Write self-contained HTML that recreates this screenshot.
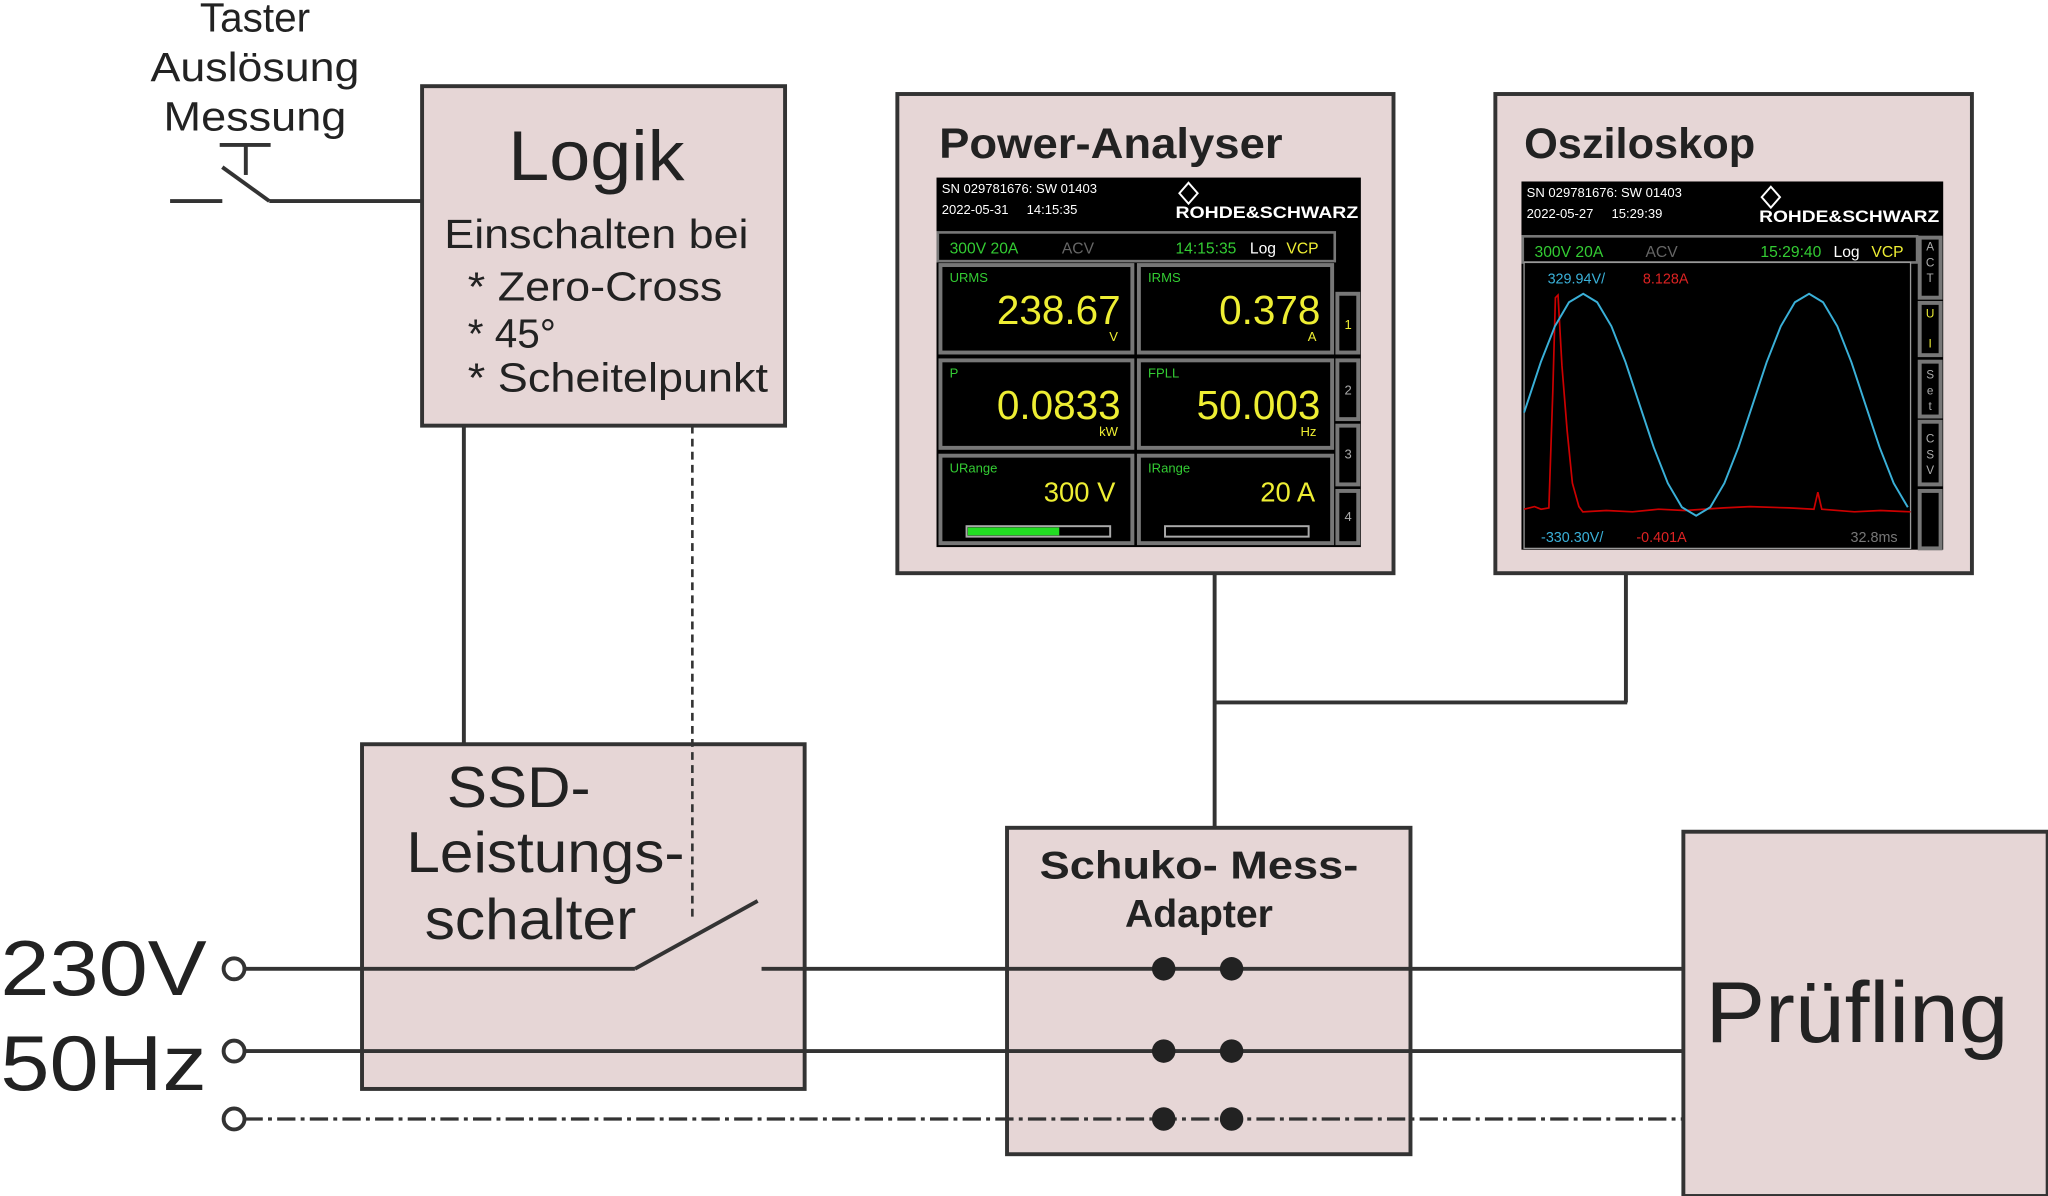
<!DOCTYPE html>
<html><head><meta charset="utf-8"><style>
html,body{margin:0;padding:0;background:#fff;}
svg{display:block;}
text{font-family:"Liberation Sans",sans-serif;}
</style></head><body>
<svg width="2048" height="1196" viewBox="0 0 1568 916" xmlns="http://www.w3.org/2000/svg">
<rect width="1568" height="916" fill="#fff"/>
<g fill="#e6d6d6" stroke="#333" stroke-width="3">
<rect x="323" y="66" width="278" height="260"/>
<rect x="277" y="570" width="339" height="264"/>
<rect x="771" y="634" width="309" height="250"/>
<rect x="1289" y="637" width="279" height="279"/>
<rect x="687" y="72" width="380" height="367"/>
<rect x="1145" y="72" width="365" height="367"/>
</g>
<g fill="#222">
<text x="195" y="24" font-size="31" text-anchor="middle">Taster</text>
<text x="115" y="62" font-size="31" textLength="160" lengthAdjust="spacingAndGlyphs">Auslösung</text>
<text x="125" y="100" font-size="31" textLength="140" lengthAdjust="spacingAndGlyphs">Messung</text>
<text x="389" y="138" font-size="54" textLength="135" lengthAdjust="spacingAndGlyphs">Logik</text>
<text x="340" y="190" font-size="31" textLength="233" lengthAdjust="spacingAndGlyphs">Einschalten bei</text>
<text x="358" y="230" font-size="31" textLength="195" lengthAdjust="spacingAndGlyphs">* Zero-Cross</text>
<text x="358" y="266" font-size="31">* 45°</text>
<text x="358" y="300" font-size="31" textLength="230" lengthAdjust="spacingAndGlyphs">* Scheitelpunkt</text>
<text x="342" y="618" font-size="44" textLength="110" lengthAdjust="spacingAndGlyphs">SSD-</text>
<text x="311" y="668" font-size="44" textLength="213" lengthAdjust="spacingAndGlyphs">Leistungs-</text>
<text x="325" y="719" font-size="44" textLength="162" lengthAdjust="spacingAndGlyphs">schalter</text>
<text x="0" y="762" font-size="60" textLength="158" lengthAdjust="spacingAndGlyphs">230V</text>
<text x="0" y="835" font-size="60" textLength="158" lengthAdjust="spacingAndGlyphs">50Hz</text>
<text x="796" y="673" font-size="30" font-weight="bold" textLength="244" lengthAdjust="spacingAndGlyphs">Schuko- Mess-</text>
<text x="918" y="710" font-size="30" font-weight="bold" text-anchor="middle">Adapter</text>
<text x="1306" y="798" font-size="66" textLength="232" lengthAdjust="spacingAndGlyphs">Prüfling</text>
<text x="719" y="121" font-size="33" font-weight="bold" textLength="263" lengthAdjust="spacingAndGlyphs">Power-Analyser</text>
<text x="1167" y="121" font-size="33" font-weight="bold" textLength="177" lengthAdjust="spacingAndGlyphs">Osziloskop</text>
</g>
<g stroke="#333" stroke-width="3" fill="none">
<line x1="130" y1="154" x2="170" y2="154"/>
<line x1="170" y1="128" x2="206" y2="154"/>
<line x1="168" y1="111" x2="207" y2="111"/>
<line x1="188" y1="111" x2="188" y2="134"/>
<line x1="206" y1="154" x2="323" y2="154"/>
<line x1="355" y1="326" x2="355" y2="570"/>
<line x1="530" y1="326" x2="530" y2="705" stroke-width="2" stroke-dasharray="6,4"/>
<line x1="187" y1="742" x2="486" y2="742"/>
<line x1="486" y1="742" x2="580" y2="690"/>
<line x1="583" y1="742" x2="1289" y2="742"/>
<line x1="187" y1="805" x2="1289" y2="805"/>
<line x1="187" y1="857" x2="1289" y2="857" stroke-width="2.5" stroke-dasharray="14,4,3,4"/>
<line x1="930" y1="439" x2="930" y2="634"/>
<line x1="930" y1="538" x2="1246" y2="538"/>
<line x1="1245" y1="439" x2="1245" y2="538"/>
<circle cx="179" cy="742" r="8" fill="#fff"/>
<circle cx="179" cy="805" r="8" fill="#fff"/>
<circle cx="179" cy="857" r="8" fill="#fff"/>
</g>
<g fill="#222">
<circle cx="891" cy="742" r="9"/><circle cx="943" cy="742" r="9"/>
<circle cx="891" cy="805" r="9"/><circle cx="943" cy="805" r="9"/>
<circle cx="891" cy="857" r="9"/><circle cx="943" cy="857" r="9"/>
</g>

<!-- Power analyser screen -->
<rect x="717" y="136" width="325" height="283" fill="#000"/>
<g fill="#fff" font-size="10">
<text x="721" y="148">SN 029781676: SW 01403</text>
<text x="721" y="164">2022-05-31 &#160;&#160;&#160;&#160;14:15:35</text>
<text x="900" y="167" font-size="12.5" font-weight="bold" textLength="140" lengthAdjust="spacingAndGlyphs">ROHDE&amp;SCHWARZ</text>
</g>
<path d="M910 140 l7 8 -7 8 -7 -8z" fill="none" stroke="#fff" stroke-width="1.5"/>
<rect x="718" y="178" width="304" height="22" fill="#000" stroke="#777" stroke-width="2"/>
<g font-size="12">
<text x="727" y="194" fill="#3c3">300V 20A</text>
<text x="813" y="194" fill="#666">ACV</text>
<text x="900" y="194" fill="#3c3">14:15:35</text>
<text x="957" y="194" fill="#fff">Log</text>
<text x="985" y="194" fill="#ee3">VCP</text>
</g>
<g fill="#000" stroke="#777" stroke-width="3">
<rect x="720" y="203" width="147" height="67"/><rect x="872" y="203" width="148" height="67"/>
<rect x="720" y="276" width="147" height="67"/><rect x="872" y="276" width="148" height="67"/>
<rect x="720" y="349" width="147" height="67"/><rect x="872" y="349" width="148" height="67"/>
<rect x="1024" y="225" width="16" height="45"/><rect x="1024" y="276" width="16" height="45"/>
<rect x="1024" y="326" width="16" height="45"/><rect x="1024" y="376" width="16" height="40"/>
</g>
<g fill="#3c3" font-size="10">
<text x="727" y="216">URMS</text><text x="879" y="216">IRMS</text>
<text x="727" y="289">P</text><text x="879" y="289">FPLL</text>
<text x="727" y="362">URange</text><text x="879" y="362">IRange</text>
</g>
<g fill="#ee3" text-anchor="end">
<text x="858" y="248" font-size="31">238.67</text><text x="1011" y="248" font-size="31">0.378</text>
<text x="858" y="321" font-size="31">0.0833</text><text x="1011" y="321" font-size="31">50.003</text>
<text x="854" y="384" font-size="21">300 V</text><text x="1007" y="384" font-size="21">20 A</text>
<text x="856" y="261" font-size="10">V</text><text x="1008" y="261" font-size="10">A</text>
<text x="856" y="334" font-size="10">kW</text><text x="1008" y="334" font-size="10">Hz</text>
<text x="1035" y="252" font-size="10">1</text>
</g>
<g fill="#aaa" font-size="10" text-anchor="end">
<text x="1035" y="302">2</text><text x="1035" y="351">3</text><text x="1035" y="399">4</text>
</g>
<rect x="740" y="403" width="110" height="8" fill="#000" stroke="#aaa" stroke-width="1.5"/>
<rect x="741" y="404" width="70" height="6" fill="#2d2"/>
<rect x="892" y="403" width="110" height="8" fill="#000" stroke="#aaa" stroke-width="1.5"/>

<!-- Oscilloscope screen -->
<rect x="1165" y="139" width="323" height="282" fill="#000"/>
<g fill="#fff" font-size="10">
<text x="1169" y="151">SN 029781676: SW 01403</text>
<text x="1169" y="167">2022-05-27 &#160;&#160;&#160;&#160;15:29:39</text>
<text x="1347" y="170" font-size="12.5" font-weight="bold" textLength="138" lengthAdjust="spacingAndGlyphs">ROHDE&amp;SCHWARZ</text>
</g>
<path d="M1356 143 l7 8 -7 8 -7 -8z" fill="none" stroke="#fff" stroke-width="1.5"/>
<rect x="1166" y="181" width="302" height="20" fill="#000" stroke="#777" stroke-width="2"/>
<g font-size="12">
<text x="1175" y="197" fill="#3c3">300V 20A</text>
<text x="1260" y="197" fill="#666">ACV</text>
<text x="1348" y="197" fill="#3c3">15:29:40</text>
<text x="1404" y="197" fill="#fff">Log</text>
<text x="1433" y="197" fill="#ee3">VCP</text>
</g>
<rect x="1167" y="201" width="296" height="219" fill="#000" stroke="#999" stroke-width="1"/>
<g fill="#000" stroke="#777" stroke-width="3">
<rect x="1470" y="182" width="16" height="46"/><rect x="1470" y="232" width="16" height="40"/>
<rect x="1470" y="277" width="16" height="42"/><rect x="1470" y="323" width="16" height="48"/>
<rect x="1470" y="376" width="16" height="44"/>
</g>
<g fill="#aaa" font-size="9" text-anchor="middle">
<text x="1478" y="192">A</text><text x="1478" y="204">C</text><text x="1478" y="216">T</text>
<text x="1478" y="243" fill="#ee3">U</text><text x="1478" y="266" fill="#ee3">I</text>
<text x="1478" y="290">S</text><text x="1478" y="302">e</text><text x="1478" y="314">t</text>
<text x="1478" y="339">C</text><text x="1478" y="351">S</text><text x="1478" y="363">V</text>
</g>
<polyline fill="none" stroke="#c00" stroke-width="1.3" points="1167,390 1175,388 1180,390 1186,389 1189,300 1191,228 1193,226 1196,280 1200,330 1204,370 1209,388 1212,392 1230,391 1250,392 1270,390 1290,391 1320,389 1340,388 1370,389 1389,390 1392,377 1395,390 1420,392 1440,391 1463,392"/>
<polyline fill="none" stroke="#3ab0d8" stroke-width="1.5" points="1167,316 1169,310 1179.8,277.4 1190.6,249.9 1201.4,231.5 1212.3,225 1223,231.5 1233.9,249.9 1244.7,277.4 1255.5,310 1266.3,342.6 1277.1,370.1 1287.9,388.5 1298.8,395 1309.6,388.5 1320.4,370.1 1331.2,342.6 1342,310 1352.8,277.4 1363.6,249.9 1374.4,231.5 1385.3,225 1396,231.5 1406.9,249.9 1417.7,277.4 1428.5,310 1439.3,342.6 1450.1,370.1 1460.9,388.5"/>
<g font-size="11">
<text x="1185" y="217" fill="#3ab0d8">329.94V/</text>
<text x="1258" y="217" fill="#d22">8.128A</text>
<text x="1180" y="415" fill="#3ab0d8">-330.30V/</text>
<text x="1253" y="415" fill="#d22">-0.401A</text>
<text x="1417" y="415" fill="#777">32.8ms</text>
</g>
</svg>
</body></html>
